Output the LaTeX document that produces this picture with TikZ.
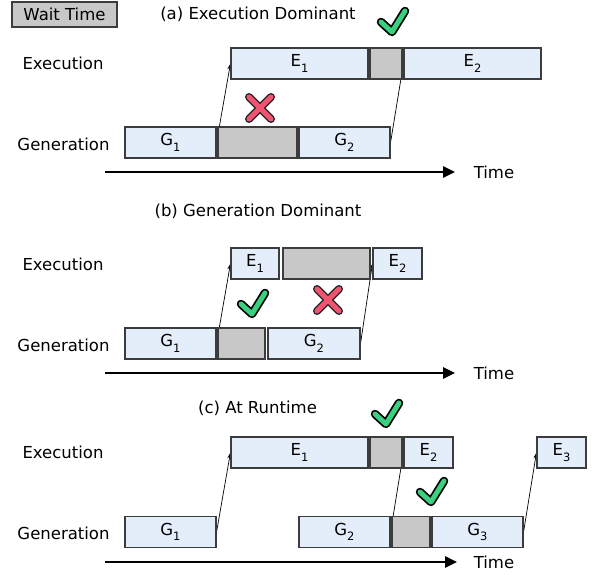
\documentclass[tikz,border=0pt]{standalone}
\usepackage{fontspec}
\setmainfont{DejaVu Sans}
\usetikzlibrary{arrows.meta,backgrounds}
\definecolor{boxblue}{RGB}{228,238,250}
\definecolor{waitgray}{RGB}{200,200,200}
\definecolor{boxedge}{RGB}{60,60,60}
\definecolor{okgreen}{RGB}{58,208,128}
\definecolor{nored}{RGB}{240,84,112}
\newcommand\subx[1]{\raisebox{-0.32em}{\fontsize{11.5}{12}\selectfont #1}}
\tikzset{
  base/.style={draw=boxedge, line width=1.1pt, inner sep=0pt, minimum height=31pt, font=\fontsize{16.5}{19}\selectfont},
  gbox/.style={base, fill=boxblue},
  wbox/.style={base, fill=waitgray},
  lbl/.style={inner sep=0pt, font=\fontsize{16.5}{19}\selectfont},
  link/.style={-{Stealth[length=6pt,width=4pt]}, line width=0.7pt},
  timeax/.style={-{Triangle[length=12pt,width=11pt]}, line width=2.6pt},
  okmark/.pic={
    \draw[line width=8.5pt, line cap=round, line join=round, black] (-12,0) -- (-1,10) -- (12,-11);
    \draw[line width=5pt, line cap=round, line join=round, okgreen] (-12,0) -- (-1,10) -- (12,-11);
  },
  nomark/.pic={
    \draw[line width=8pt, line cap=round, black!85] (-11,-11) -- (11,11) (-11,11) -- (11,-11);
    \draw[line width=5pt, line cap=round, nored] (-11,-11) -- (11,11) (-11,11) -- (11,-11);
  }
}
\begin{document}
\begin{tikzpicture}[x=1pt,y=-1pt]
\useasboundingbox (0,0) rectangle (595,575);
% legend
\node[wbox, minimum width=105pt, minimum height=25pt] (legend) at (64.5,14.5) {Wait Time};
% ---------- (a)
\node[lbl] (ta) at (258,14) {(a) Execution Dominant};
\node[lbl] (aexl) at (63,63) {Execution};
\node[lbl] (agel) at (63.5,144) {Generation};
\node[gbox, minimum width=137pt] (aE1) at (299.5,63.5) {E\subx{1}};
\node[wbox, minimum width=32pt] (aEW) at (386,63.5) {};
\node[gbox, minimum width=137pt] (aE2) at (472.5,63.5) {E\subx{2}};
\node[gbox, minimum width=91pt] (aG1) at (170.5,142.5) {G\subx{1}};
\node[wbox, minimum width=79pt] (aGW) at (257.5,142.5) {};
\node[gbox, minimum width=91pt] (aG2) at (344.5,142.5) {G\subx{2}};
\begin{scope}[on background layer]
\draw[link] (aG1.east) -- (aE1.west);
\draw[link] (aG2.east) -- (aE2.west);
\end{scope}
\pic at (393,22) {okmark};
\pic at (260,108) {nomark};
\coordinate (aT0) at (105,172);
\coordinate (aT1) at (455,172);
\draw[timeax] (aT0) -- (aT1);
\node[lbl] (atime) at (494,172) {Time};
% ---------- (b)
\node[lbl] (tb) at (258,211) {(b) Generation Dominant};
\node[lbl] (bexl) at (63,264) {Execution};
\node[lbl] (bgel) at (63.5,345) {Generation};
\node[gbox, minimum width=48pt] (bE1) at (255,263.5) {E\subx{1}};
\node[wbox, minimum width=87pt] (bEW) at (326.5,263.5) {};
\node[gbox, minimum width=49pt] (bE2) at (397.5,263.5) {E\subx{2}};
\node[gbox, minimum width=91pt] (bG1) at (170.5,343.5) {G\subx{1}};
\node[wbox, minimum width=47pt] (bGW) at (241.5,343.5) {};
\node[gbox, minimum width=92pt] (bG2) at (314,343.5) {G\subx{2}};
\begin{scope}[on background layer]
\draw[link] (bG1.east) -- (bE1.west);
\draw[link] (bG2.east) -- (bE2.west);
\end{scope}
\pic at (253,304) {okmark};
\pic at (328,300) {nomark};
\coordinate (bT0) at (105,373);
\coordinate (bT1) at (455,373);
\draw[timeax] (bT0) -- (bT1);
\node[lbl] (btime) at (494,373) {Time};
% ---------- (c)
\node[lbl] (tc) at (257.5,408) {(c) At Runtime};
\node[lbl] (cexl) at (63,452) {Execution};
\node[lbl] (cgel) at (63.5,533) {Generation};
\node[gbox, minimum width=137pt] (cE1) at (299.5,452.5) {E\subx{1}};
\node[wbox, minimum width=32pt] (cEW) at (386,452.5) {};
\node[gbox, minimum width=49pt] (cE2) at (428.5,452.5) {E\subx{2}};
\node[gbox, minimum width=49pt] (cE3) at (561.5,452.5) {E\subx{3}};
\node[gbox, minimum width=91pt] (cG1) at (170.5,532) {G\subx{1}};
\node[gbox, minimum width=91pt] (cG2) at (344.5,532) {G\subx{2}};
\node[wbox, minimum width=38pt] (cGW) at (411,532) {};
\node[gbox, minimum width=91pt] (cG3) at (477.5,532) {G\subx{3}};
\begin{scope}[on background layer]
\draw[link] (cG1.east) -- (cE1.west);
\draw[link] (cG2.east) -- (cE2.west);
\draw[link] (cG3.east) -- (cE3.west);
\end{scope}
\pic at (387,414) {okmark};
\pic at (432,492) {okmark};
\coordinate (cT0) at (105,562);
\coordinate (cT1) at (457,562);
\draw[timeax] (cT0) -- (cT1);
\node[lbl] (ctime) at (494,562) {Time};
\end{tikzpicture}
\end{document}
